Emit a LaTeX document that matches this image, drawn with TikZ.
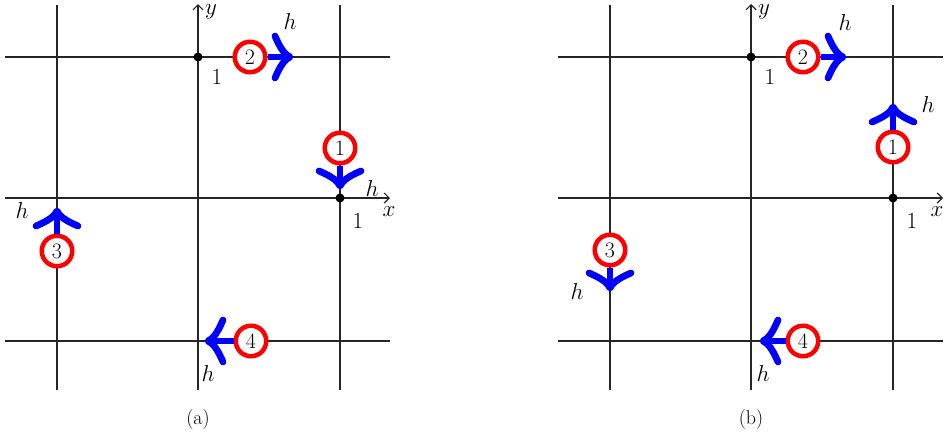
\RequirePackage{fix-cm}
\documentclass[tikz,border=0pt]{standalone}
\usetikzlibrary{arrows.meta}
\tikzset{
  pics/barbs/.style={code={
    \draw[blue, line width=6.8pt, line cap=round, line join=round]
      (-15,21) .. controls (-10,9) and (-5,2) .. (0,0)
      .. controls (-5,-2) and (-10,-9) .. (-15,-21);}},
}
\begin{document}
\begin{tikzpicture}[x=1pt,y=-1pt,
  grid/.style={draw=black!85, line width=1.4pt},
  axis/.style={grid, -{Straight Barb[length=5pt,width=10pt,line width=1.2pt]}},
  numc/.style={circle, draw=red, line width=4.5pt, minimum size=30.5pt, inner sep=0pt, fill=white, font=\fontsize{22}{22}\selectfont},
  lab/.style={font=\fontsize{23}{23}\selectfont, inner sep=0pt},
  captext/.style={font=\fontsize{20}{20}\selectfont, inner sep=0pt},
  dot/.style={circle, fill=black, inner sep=0pt, minimum size=9pt},
  stem/.style={draw=blue, line width=6.8pt, shorten >=3pt},
]
\useasboundingbox (0,0) rectangle (945,440);
% ---------- panel (a) ----------
\draw[grid] (5,57) -- (390,57);
\draw[axis] (5,198) -- (390,198);
\draw[grid] (5,341) -- (390,341);
\draw[grid] (57,5) -- (57,390);
\draw[axis] (198,390) -- (198,4);
\draw[grid] (340,5) -- (340,390);
\node[lab] (ax) at (389,212) {$x$};
\node[lab] (ay) at (211,12) {$y$};
\node[dot] (ad1) at (198,57) {};
\node[dot] (ad2) at (340,198) {};
\node[lab] (ao1) at (217,77) {1};
\node[lab] (ao2) at (358,221) {1};
\node[numc] (a1) at (340,148) {1};
\node[numc] (a2) at (250,57) {2};
\node[numc] (a3) at (57,251) {3};
\node[numc] (a4) at (251,341) {4};
\coordinate (ta1) at (340,186);
\coordinate (ta2) at (290,57);
\coordinate (ta3) at (57,211);
\coordinate (ta4) at (208,341);
\draw[stem] (a1.south) -- (ta1); \pic[rotate=-90] at (ta1) {barbs};
\draw[stem] (a2.east) -- (ta2);  \pic at (ta2) {barbs};
\draw[stem] (a3.north) -- (ta3); \pic[rotate=90] at (ta3) {barbs};
\draw[stem] (a4.west) -- (ta4);  \pic[rotate=180] at (ta4) {barbs};
\node[lab] (ah1) at (372,189) {$h$};
\node[lab] (ah2) at (290,22) {$h$};
\node[lab] (ah3) at (22,211) {$h$};
\node[lab] (ah4) at (208,374) {$h$};
\node[captext] (capa) at (198,420) {(a)};
% ---------- panel (b) ----------
\draw[grid] (558,57) -- (943,57);
\draw[axis] (558,198) -- (943,198);
\draw[grid] (558,341) -- (943,341);
\draw[grid] (610,5) -- (610,390);
\draw[axis] (751,390) -- (751,4);
\draw[grid] (893,5) -- (893,390);
\node[lab] (bx) at (937,212) {$x$};
\node[lab] (by) at (764,12) {$y$};
\node[dot] (bd1) at (751,57) {};
\node[dot] (bd2) at (893,198) {};
\node[lab] (bo1) at (770,77) {1};
\node[lab] (bo2) at (912,221) {1};
\node[numc] (b1) at (893,147) {1};
\node[numc] (b2) at (803,57) {2};
\node[numc] (b3) at (610,250) {3};
\node[numc] (b4) at (803,341) {4};
\coordinate (tb1) at (893,107);
\coordinate (tb2) at (843,57);
\coordinate (tb3) at (610,288);
\coordinate (tb4) at (763,341);
\draw[stem] (b1.north) -- (tb1); \pic[rotate=90] at (tb1) {barbs};
\draw[stem] (b2.east) -- (tb2);  \pic at (tb2) {barbs};
\draw[stem] (b3.south) -- (tb3); \pic[rotate=-90] at (tb3) {barbs};
\draw[stem] (b4.west) -- (tb4);  \pic[rotate=180] at (tb4) {barbs};
\node[lab] (bh1) at (928,105) {$h$};
\node[lab] (bh2) at (845,23) {$h$};
\node[lab] (bh3) at (577,292) {$h$};
\node[lab] (bh4) at (763,374) {$h$};
\node[captext] (capb) at (751,420) {(b)};
\end{tikzpicture}
\end{document}
